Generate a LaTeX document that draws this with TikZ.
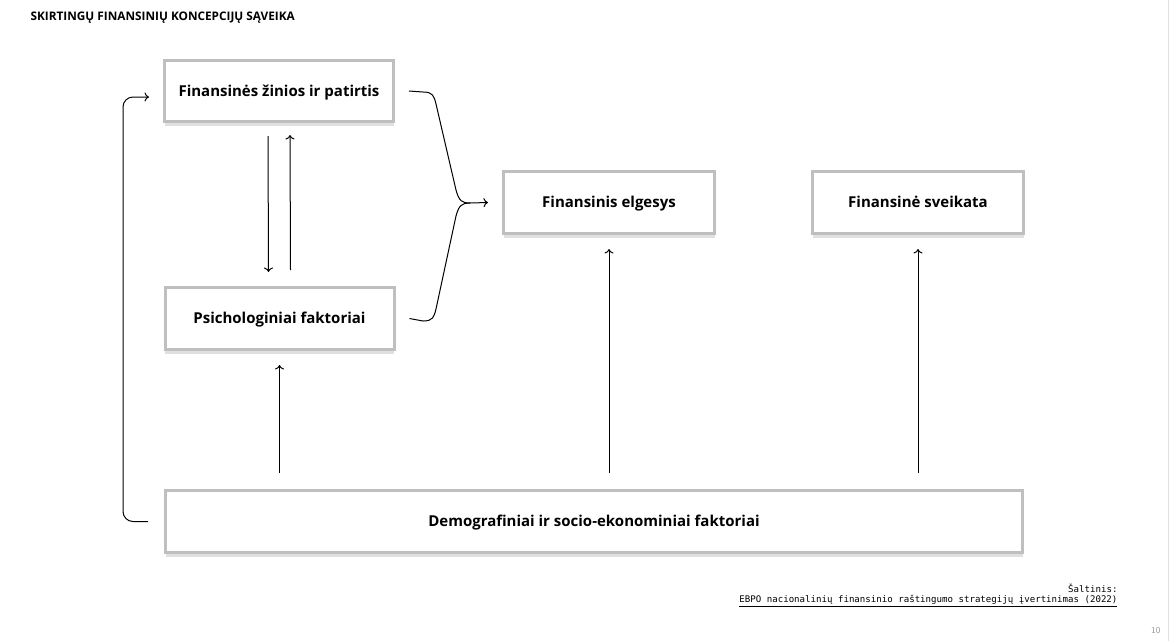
\documentclass[tikz,border=0pt]{standalone}
\usepackage{fontspec}
\setmainfont{Open Sans}
\setmonofont{DejaVu Sans Mono}
\usetikzlibrary{shadows,arrows.meta}
\tikzset{
	kvadr/.style={draw=black!25, line width=3pt, fill=white, align=center,
		font=\fontsize{15}{17}\selectfont\bfseries, text height=1.3em, text depth=0.23em,
		drop shadow={shadow xshift=0pt, shadow yshift=-4.5pt, fill=black!12, opacity=1}},
	rod/.style={-{To[length=4.5pt,width=9pt]}, line width=1pt}
}
\begin{document}
\begin{tikzpicture}[x=1pt, y=-1pt]
	\useasboundingbox (0,0) rectangle (1169,641);
	\draw[black!12, line width=1pt](1168,0)--(1168,641);
	\node[anchor=west, font=\fontsize{11.8}{13}\selectfont\bfseries] (title) at (27,18) {SKIRTINGŲ FINANSINIŲ KONCEPCIJŲ SĄVEIKA};
	% langeliai
	\node[kvadr, minimum width=229pt, minimum height=61pt] (zinios) at (279,91) {Finansinės žinios ir patirtis};
	\node[kvadr, minimum width=229pt, minimum height=62pt] (psich) at (279.5,318.5) {Psichologiniai faktoriai};
	\node[kvadr, minimum width=211pt, minimum height=62pt] (elgesys) at (609,202.5) {Finansinis elgesys};
	\node[kvadr, minimum width=211pt, minimum height=62pt] (sveikata) at (918,202.5) {Finansinė sveikata};
	\node[kvadr, minimum width=857pt, minimum height=62pt] (demo) at (594,521.5) {Demografiniai ir socio-ekonominiai faktoriai};
	% rodyklės
	\draw[rod, rounded corners=10pt]([xshift=-16pt]demo.west) -| (123,97) -- ([xshift=-14pt, yshift=-6pt]zinios.west);
	\draw[rod]([xshift=-11pt, yshift=-13pt]zinios.south) -- ([xshift=-11pt, yshift=14pt]psich.north);
	\draw[rod]([xshift=11pt, yshift=16pt]psich.north) -- ([xshift=11pt, yshift=-12pt]zinios.south);
	\draw[rod](psich.south |- demo.north) ++(0,-16) -- ([yshift=-14pt]psich.south);
	\draw[rod](elgesys.south |- demo.north) ++(0,-16) -- ([yshift=-14pt]elgesys.south);
	\draw[rod](sveikata.south |- demo.north) ++(0,-16) -- ([yshift=-14pt]sveikata.south);
	\coordinate (jung) at (470,203);
	\draw[line width=1pt]([xshift=14pt]zinios.east) -- (423,92) .. controls (433,92) and (434,96) .. (436,104) -- (456,190) .. controls (459,201) and (462,203) .. (jung);
	\draw[line width=1pt]([xshift=14pt]psich.east) -- (423,321) .. controls (433,321) and (434,317) .. (436,309) -- (456,216) .. controls (459,205) and (462,203) .. (jung);
	\draw[rod](jung) -- ([xshift=-14pt]elgesys.west);
	% šaltinis
	\node[anchor=east, font=\fontsize{9.1}{11}\ttfamily] (salt) at (1121,588) {Šaltinis:};
	\node[anchor=east, font=\fontsize{9.1}{11}\ttfamily] (saltin) at (1121,601) {\underline{EBPO nacionalinių finansinio raštingumo strategijų įvertinimas (2022)}};
	\node[anchor=east, text=black!40, font=\fontsize{9}{10}\sffamily] (psl) at (1164,631) {10};
\end{tikzpicture}
\end{document}
